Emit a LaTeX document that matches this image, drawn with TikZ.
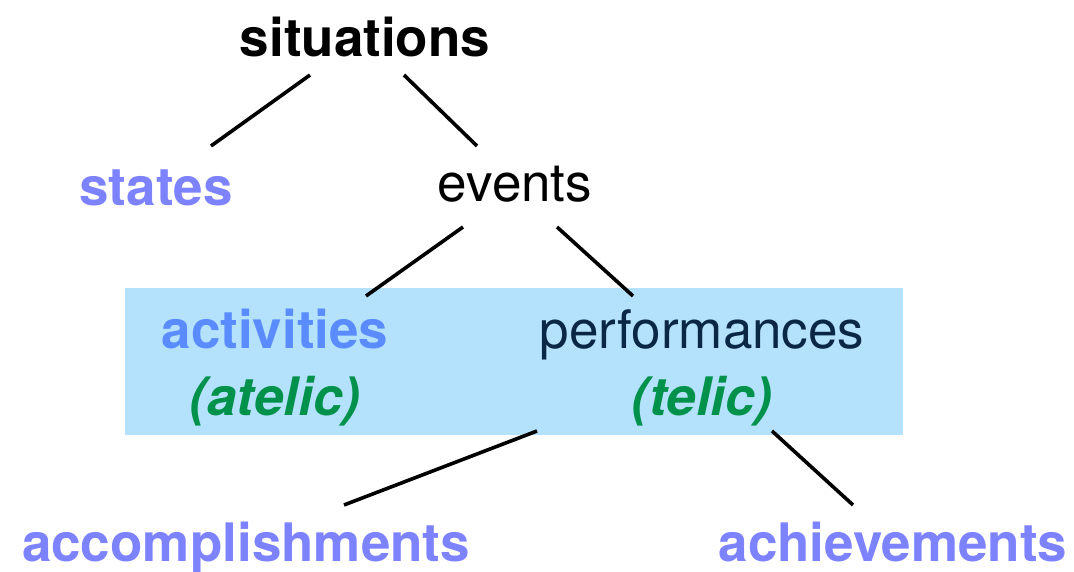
\documentclass[tikz,border=0pt]{standalone}
\usepackage{fontspec}
\setmainfont{TeX Gyre Heros}
\usepackage{xcolor}
\usetikzlibrary{calc}

\definecolor{lilac}{RGB}{125,130,255}
\definecolor{actblue}{RGB}{90,140,255}
\definecolor{navy}{RGB}{10,40,70}
\definecolor{telgreen}{RGB}{0,145,75}
\definecolor{boxblue}{RGB}{180,225,252}

\tikzset{
  word/.style={anchor=base, inner sep=0pt, font=\fontsize{53}{60}\selectfont},
  boldword/.style={word, font=\fontsize{53}{60}\selectfont\bfseries},
  branch/.style={line width=3.6pt, black}
}

\begin{document}
\begin{tikzpicture}[x=1pt, y=-1pt]
  \useasboundingbox (0,0) rectangle (1074,572);

  % Shaded band behind activities / performances
  \fill[boxblue] (125,288) rectangle (903,435);

  % Tree labels
  \node[boldword] (sit) at (365,57) {situations};
  \node[boldword, lilac] (states) at (156,206) {states};
  \node[word] (events) at (515,202) {events};
  \node[boldword, actblue] (act) at (275,348) {activities};
  \node[word, navy] (perf) at (702,348) {performances};
  \node[word, font=\fontsize{53}{60}\selectfont\bfseries\itshape, telgreen] (atelic) at (275,415) {(atelic)};
  \node[word, font=\fontsize{53}{60}\selectfont\bfseries\itshape, telgreen] (telic) at (702,415) {(telic)};
  \node[boldword, lilac] (accomp) at (246,561) {accomplishments};
  \node[boldword, lilac] (achieve) at (893,561) {achievements};

  % Branches
  \draw[branch] ($(sit.base)+(-55,18)$) -- ($(states.base)+(55,-60)$);
  \draw[branch] ($(sit.base)+(39,18)$) -- ($(events.base)+(-38,-56)$);
  \draw[branch] ($(events.base)+(-52,25)$) -- ($(act.base)+(91,-52)$);
  \draw[branch] ($(events.base)+(42,25)$) -- ($(perf.base)+(-69,-52)$);
  \draw[branch] ($(perf.base)+(-165,83)$) -- ($(accomp.base)+(98,-56)$);
  \draw[branch] ($(perf.base)+(70,83)$) -- ($(achieve.base)+(-40,-56)$);
\end{tikzpicture}
\end{document}
